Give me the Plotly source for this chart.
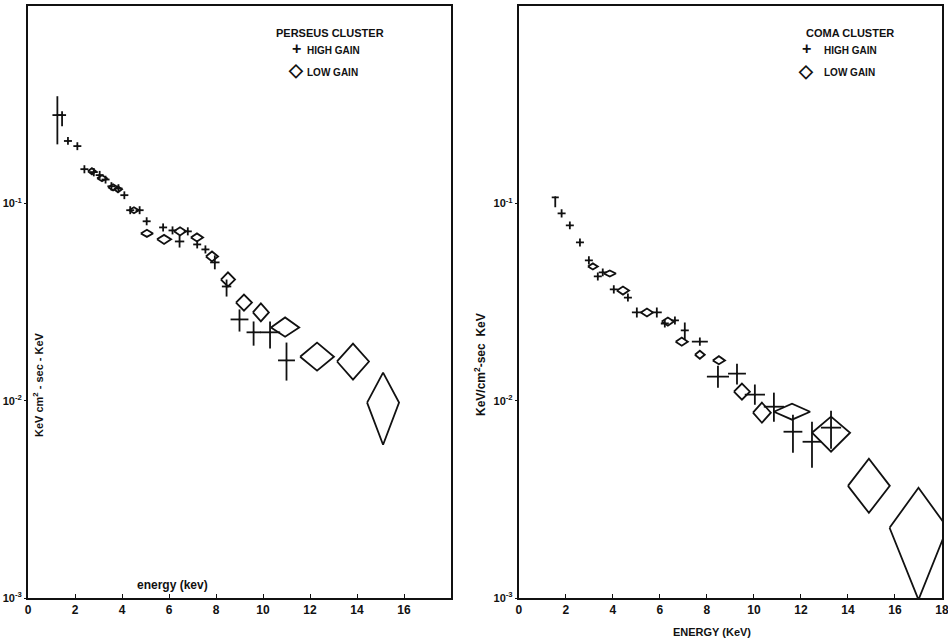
import plotly.graph_objects as go

# ---------------- PERSEUS CLUSTER ----------------
# high gain (crosses): energy (keV), flux, half-width in energy, flux error limits
per_hg_x = [1.25, 1.45, 1.70, 2.10, 2.40, 2.80, 3.05, 3.30, 3.55, 3.85, 4.10, 4.35, 4.75,
            5.05, 5.75, 6.15, 6.45, 6.80, 7.20, 7.55, 7.95, 8.45, 9.00, 9.60, 10.30, 11.00]
per_hg_y = [0.280, 0.280, 0.207, 0.195, 0.149, 0.144, 0.139, 0.132, 0.122, 0.119, 0.110,
            0.0923, 0.0923, 0.0811, 0.0755, 0.0729, 0.0641, 0.0721, 0.0619, 0.0584, 0.0502,
            0.0379, 0.0258, 0.0222, 0.0222, 0.0160]
per_hg_dx = [0.21, 0.17, 0.17, 0.17, 0.17, 0.17, 0.17, 0.17, 0.17, 0.17, 0.17, 0.17, 0.17,
             0.17, 0.17, 0.17, 0.20, 0.17, 0.17, 0.17, 0.20, 0.20, 0.38, 0.30, 0.43, 0.36]
per_hg_lo = [0.199, 0.246, 0.198, 0.186, 0.142, 0.137, 0.133, 0.126, 0.116, 0.114, 0.105,
             0.0881, 0.0881, 0.0774, 0.0720, 0.0696, 0.0597, 0.0688, 0.0591, 0.0557, 0.0463,
             0.0337, 0.0224, 0.0190, 0.0184, 0.01264]
per_hg_hi = [0.349, 0.293, 0.217, 0.204, 0.156, 0.151, 0.146, 0.138, 0.128, 0.125, 0.115,
             0.0967, 0.0967, 0.0850, 0.0791, 0.0764, 0.0688, 0.0756, 0.0649, 0.0612, 0.0545,
             0.0411, 0.0290, 0.0252, 0.0252, 0.0197]

# low gain (diamonds)
per_lg_x = [2.72, 3.15, 3.62, 3.83, 4.51, 5.06, 5.79, 6.47, 7.19, 7.83, 8.51, 9.19, 9.91,
            10.94, 12.30, 13.83, 15.11]
per_lg_y = [0.1454, 0.1340, 0.1206, 0.1178, 0.0923, 0.0704, 0.0657, 0.0721, 0.0672, 0.0538,
            0.0411, 0.0314, 0.0280, 0.0235, 0.0167, 0.0158, 0.00977]
per_lg_dx = [0.17, 0.21, 0.21, 0.17, 0.21, 0.26, 0.30, 0.26, 0.26, 0.26, 0.30, 0.34, 0.34,
             0.60, 0.72, 0.68, 0.68]
per_lg_lo = [0.1403, 0.1293, 0.1164, 0.1137, 0.0891, 0.0676, 0.0623, 0.0688, 0.0641, 0.0508,
             0.0379, 0.0286, 0.0252, 0.0211, 0.0142, 0.01278, 0.00598]
per_lg_hi = [0.1506, 0.1388, 0.1249, 0.1220, 0.0956, 0.0734, 0.0692, 0.0756, 0.0704, 0.0570,
             0.0447, 0.0345, 0.0311, 0.0264, 0.0197, 0.01947, 0.01388]

# ---------------- COMA CLUSTER ----------------
com_hg_x = [1.55, 1.82, 2.17, 2.60, 2.98, 3.36, 3.57, 4.04, 4.64, 5.02, 5.87, 6.21, 6.64,
            7.06, 7.70, 8.47, 9.28, 10.04, 10.85, 11.66, 12.47, 13.28]
com_hg_y = [0.1073, 0.0889, 0.0773, 0.0634, 0.0514, 0.0426, 0.0447, 0.0366, 0.0333, 0.0280,
            0.0280, 0.0246, 0.0255, 0.0227, 0.0199, 0.01324, 0.01371, 0.01073, 0.00932,
            0.00696, 0.00619, 0.00730]
com_hg_dx = [0.15, 0.17, 0.17, 0.17, 0.17, 0.17, 0.17, 0.17, 0.17, 0.21, 0.21, 0.17, 0.17,
             0.17, 0.34, 0.47, 0.38, 0.43, 0.43, 0.40, 0.40, 0.43]
com_hg_lo = [0.0954, 0.0848, 0.0738, 0.0605, 0.0490, 0.0406, 0.0427, 0.0349, 0.0318, 0.0264,
             0.0264, 0.0235, 0.0243, 0.0204, 0.0190, 0.01164, 0.01206, 0.00954, 0.00782,
             0.00545, 0.00457, 0.00571]
com_hg_hi = [0.1073, 0.0932, 0.0810, 0.0664, 0.0539, 0.0446, 0.0468, 0.0384, 0.0349, 0.0297,
             0.0297, 0.0258, 0.0267, 0.0249, 0.0209, 0.01505, 0.0154, 0.01206, 0.01098,
             0.00849, 0.00782, 0.00889]

com_lg_x = [3.15, 3.87, 4.43, 5.45, 6.34, 6.93, 7.70, 8.51, 9.49, 10.34, 11.62, 13.28, 14.89, 17.0]
com_lg_y = [0.0479, 0.0441, 0.0362, 0.0280, 0.0252, 0.0199, 0.0171, 0.0160, 0.01111, 0.00869,
            0.00879, 0.00688, 0.00370, 0.00227]
com_lg_dx = [0.21, 0.26, 0.26, 0.26, 0.26, 0.26, 0.21, 0.26, 0.34, 0.38, 0.77, 0.81, 0.89, 1.23]
com_lg_lo = [0.0462, 0.0426, 0.0345, 0.0267, 0.0240, 0.0190, 0.0163, 0.0153, 0.01012, 0.00773,
             0.00801, 0.00551, 0.00270, 0.00098]
com_lg_hi = [0.0496, 0.0457, 0.0379, 0.0293, 0.0264, 0.0209, 0.0179, 0.0168, 0.0122, 0.00977,
             0.00966, 0.00830, 0.00508, 0.00362]

x_ticks_left = [0, 2, 4, 6, 8, 10, 12, 14, 16]
x_ticks_right = [0, 2, 4, 6, 8, 10, 12, 14, 16, 18]
y_ticks = [1e-3, 1e-2, 1e-1]
y_ticktext = ["10<sup>-3</sup>", "10<sup>-2</sup>", "10<sup>-1</sup>"]

INK = "#111111"
FONT = "Liberation Sans"


def cross_trace(x, y, dx, lo, hi, xa, ya):
    return go.Scatter(
        x=x, y=y, mode="markers", xaxis=xa, yaxis=ya, showlegend=False,
        marker=dict(size=2, color=INK),
        error_x=dict(type="data", array=dx, width=0, thickness=1.8, color=INK),
        error_y=dict(type="data", symmetric=False,
                     array=[h - v for h, v in zip(hi, y)],
                     arrayminus=[v - l for v, l in zip(y, lo)],
                     width=0, thickness=1.8, color=INK),
        hoverinfo="skip")


def diamond_trace(x, y, dx, lo, hi, xa, ya):
    px, py = [], []
    for xc, yc, d, l, h in zip(x, y, dx, lo, hi):
        px += [xc - d, xc, xc + d, xc, xc - d, None]
        py += [yc, h, yc, l, yc, None]
    return go.Scatter(x=px, y=py, mode="lines", xaxis=xa, yaxis=ya, showlegend=False,
                      line=dict(color=INK, width=1.8), hoverinfo="skip")


fig = go.Figure()
fig.add_trace(diamond_trace(per_lg_x, per_lg_y, per_lg_dx, per_lg_lo, per_lg_hi, "x", "y"))
fig.add_trace(cross_trace(per_hg_x, per_hg_y, per_hg_dx, per_hg_lo, per_hg_hi, "x", "y"))
fig.add_trace(diamond_trace(com_lg_x, com_lg_y, com_lg_dx, com_lg_lo, com_lg_hi, "x2", "y2"))
fig.add_trace(cross_trace(com_hg_x, com_hg_y, com_hg_dx, com_hg_lo, com_hg_hi, "x2", "y2"))

axis_common = dict(showline=True, linecolor=INK, linewidth=2, mirror=True, showgrid=False,
                   zeroline=False, tickcolor=INK, automargin=False, ticklabeloverflow="allow",
                   tickfont=dict(family=FONT, size=12, color=INK, weight="bold"))
ytick_font = dict(family=FONT, size=11, color=INK, weight="bold")

fig.update_layout(
    width=948, height=644,
    paper_bgcolor="white", plot_bgcolor="white",
    margin=dict(l=28, r=6, t=6, b=46, autoexpand=False),
    xaxis=dict(domain=[0, 0.4628], range=[0, 18], tickvals=x_ticks_left,
               ticks="inside", ticklen=4, **axis_common),
    yaxis=dict(type="log", range=[-3, 0], tickvals=y_ticks, ticktext=y_ticktext,
               ticks="outside", ticklen=2, **{**axis_common, "tickfont": ytick_font}),
    xaxis2=dict(domain=[0.537, 1], range=[0, 18], tickvals=x_ticks_right,
                ticks="inside", ticklen=4, anchor="y2", **axis_common),
    yaxis2=dict(type="log", range=[-3, 0], tickvals=y_ticks, ticktext=y_ticktext,
                ticks="outside", ticklen=2, anchor="x2", **{**axis_common, "tickfont": ytick_font}),
)


def px2paper(px, py):
    # page pixel -> paper coordinates (plot area spans x 28..942, y 6..598)
    return (px - 28) / 914.0, (598 - py) / 592.0


def note(text, px, py, size=10, xanchor="center", angle=0):
    x, y = px2paper(px, py)
    fig.add_annotation(text=text, x=x, y=y, xref="paper", yref="paper", showarrow=False,
                       xanchor=xanchor, yanchor="middle", textangle=angle,
                       font=dict(family=FONT, size=size, color=INK, weight="bold"))


# panel titles and legends
note("PERSEUS CLUSTER", 330, 33, 11)
note("+", 296, 48, 16)
note("HIGH GAIN", 305, 51, 10, "left")
note("◇", 296, 70, 18)
note("LOW GAIN", 305, 72, 10, "left")

note("COMA CLUSTER", 850, 33, 11)
note("+", 806, 49, 16)
note("HIGH GAIN", 822, 51, 10, "left")
note("◇", 806, 71, 18)
note("LOW GAIN", 822, 72, 10, "left")

# axis labels
note("energy (kev)", 172, 585, 12)
note("ENERGY (KeV)", 712, 632, 11)
note("KeV cm<sup>2</sup> - sec - KeV", 38, 385, 11, angle=-90)
note("KeV/cm<sup>2</sup>-sec  KeV", 480, 365, 12, angle=-90)

# the page has no body margin so the figure fills the 948x644 window exactly
fig.write_html("out.html", config={"displayModeBar": False},
               post_script="document.body.style.margin='0';document.body.style.overflow='hidden';")
